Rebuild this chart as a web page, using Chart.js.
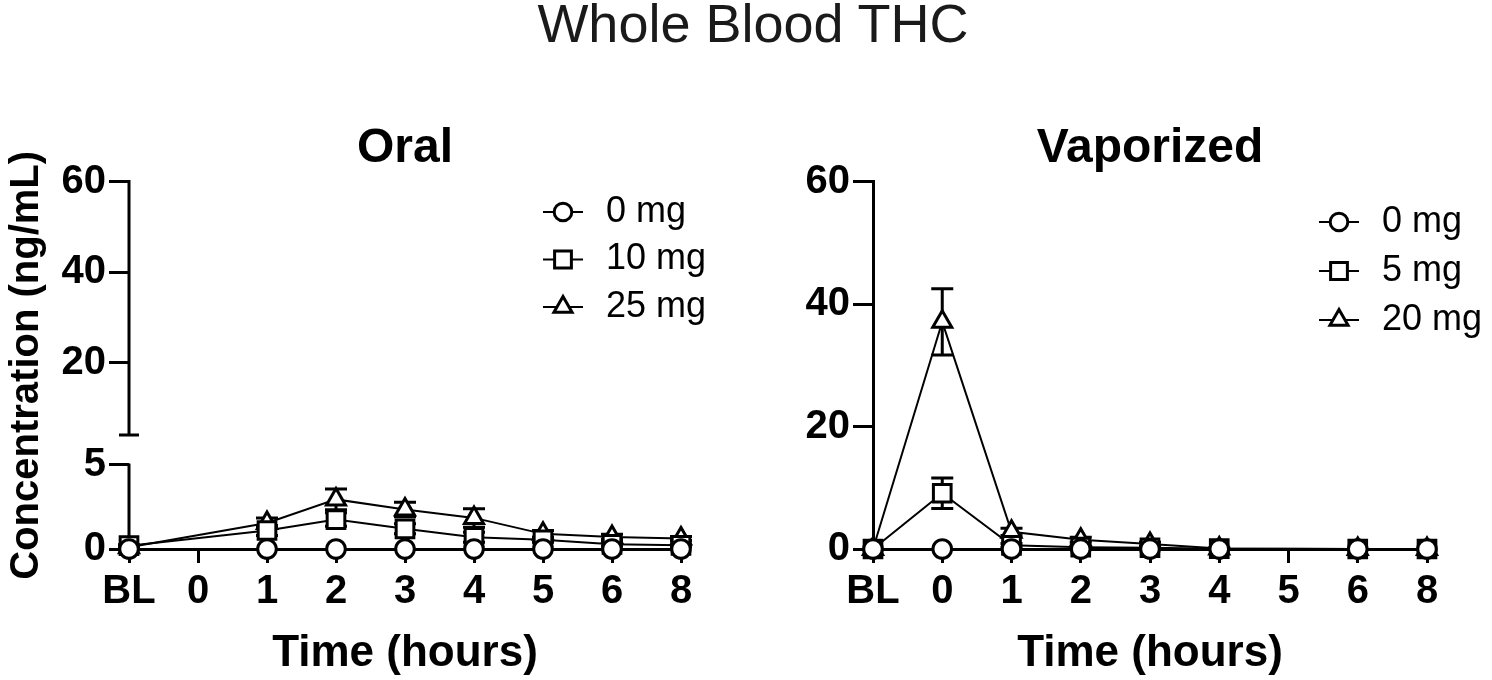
<!DOCTYPE html>
<html>
<head>
<meta charset="UTF-8">
<title>Whole Blood THC</title>
<script src="https://cdn.jsdelivr.net/npm/chart.js"></script>
<style>
body{margin:0;background:#fff;}
#wrap{position:relative;width:1492px;height:680px;}
canvas{position:absolute;top:0;}
#mainTitle{position:absolute;left:7px;top:-2px;width:1492px;text-align:center;font:54px "Liberation Sans",Arial,sans-serif;line-height:50px;color:#1a1a1a;z-index:2;}
</style>
</head>
<body>
<div id="wrap">
	<canvas id="oralChart" width="746" height="680" style="left:0"></canvas>
	<canvas id="vapChart" width="746" height="680" style="left:746px"></canvas>
	<div id="mainTitle">Whole Blood THC</div>
</div>
<script>
// time points (hours after dosing)
const timeLabels = ['BL', '0', '1', '2', '3', '4', '5', '6', '8'];

// Oral, mean ng/mL (null = no sample)
const oral0mg  = [0, null, 0, 0, 0, 0, 0, 0, 0];
const oral10mg = [0.2, null, 1.1, 1.75, 1.2, 0.7, 0.55, 0.28, 0.22];
const oral25mg = [0.1, null, 1.55, 2.95, 2.35, 1.85, 0.9, 0.72, 0.62];
// Oral, SEM
const oral0mgSem  = [0, null, 0, 0, 0, 0, 0, 0, 0];
const oral10mgSem = [0.05, null, 0.3, 0.4, 0.3, 0.3, 0.15, 0.1, 0.08];
const oral25mgSem = [0.05, null, 0.3, 0.62, 0.43, 0.55, 0.2, 0.15, 0.12];

// Vaporized, mean ng/mL
const vap0mg  = [0, 0, 0, 0, 0, 0, null, 0, 0];
const vap5mg  = [0, 9.1, 0.6, 0.3, 0.2, 0.05, null, 0, 0];
const vap20mg = [0, 37.1, 2.8, 1.5, 0.8, 0.1, null, 0, 0];
// Vaporized, SEM
const vap0mgSem  = [0, 0, 0, 0, 0, 0, null, 0, 0];
const vap5mgSem  = [0, 2.5, 0.3, 0.2, 0.1, 0.05, null, 0, 0];
const vap20mgSem = [0, 5.4, 0.6, 0.4, 0.3, 0.1, null, 0, 0];

const oralTicks = [0, 5, 20, 40, 60];
const vapTicks = [0, 20, 40, 60];

// broken y axis of the oral panel: 0-5 at the bottom, gap, 4-60 on top
const BRK = { lowMax: 5, highMin: 4, lowFrac: 84 / 367, gapFrac: 30 / 367 };

const FONT = '"Liberation Sans", Arial, Helvetica, sans-serif';
Chart.defaults.font.family = FONT;
Chart.defaults.color = '#000';

class BrokenLinearScale extends Chart.LinearScale {
	getPixelForValue(value) {
		if (value === null || isNaN(value)) return NaN;
		let dec;
		if (value <= BRK.lowMax) {
			dec = value / BRK.lowMax * BRK.lowFrac;
		} else {
			dec = BRK.lowFrac + BRK.gapFrac + (value - BRK.highMin) / (this.max - BRK.highMin) * (1 - BRK.lowFrac - BRK.gapFrac);
		}
		return this.getPixelForDecimal(dec);
	}
}
BrokenLinearScale.id = 'brokenLinear';
BrokenLinearScale.defaults = Chart.LinearScale.defaults;
Chart.register(BrokenLinearScale);

// error bars, drawn under the markers
const errorBars = {
	id: 'errorBars',
	beforeDatasetsDraw(chart) {
		const ctx = chart.ctx;
		const xs = chart.scales.x, ys = chart.scales.y;
		ctx.save();
		ctx.strokeStyle = '#000';
		ctx.lineWidth = 3;
		chart.data.datasets.forEach(ds => {
			if (!ds.sem) return;
			ds.data.forEach((v, i) => {
				const s = ds.sem[i];
				if (v === null || !s) return;
				const x = xs.getPixelForValue(i);
				const yt = ys.getPixelForValue(v + s);
				const yb = ys.getPixelForValue(Math.max(v - s, 0));
				ctx.beginPath();
				ctx.moveTo(x, yt); ctx.lineTo(x, yb);
				ctx.moveTo(x - 11, yt); ctx.lineTo(x + 11, yt);
				ctx.moveTo(x - 11, yb); ctx.lineTo(x + 11, yb);
				ctx.stroke();
			});
		});
		ctx.restore();
	}
};

// the two pieces of the oral y axis
const brokenAxis = {
	id: 'brokenAxis',
	beforeDatasetsDraw(chart) {
		const ys = chart.scales.y;
		if (ys.type !== 'brokenLinear') return;
		const ctx = chart.ctx;
		const x = chart.chartArea.left;
		const gapTop = ys.getPixelForDecimal(BRK.lowFrac + BRK.gapFrac);
		ctx.save();
		ctx.strokeStyle = '#000';
		ctx.lineWidth = 3;
		ctx.beginPath();
		ctx.moveTo(x, ys.getPixelForValue(0) + 1.5);
		ctx.lineTo(x, ys.getPixelForValue(BRK.lowMax) - 1.5);
		ctx.moveTo(x, ys.getPixelForValue(ys.max) - 1.5);
		ctx.lineTo(x, gapTop);
		ctx.moveTo(x - 10, gapTop);
		ctx.lineTo(x + 10, gapTop);
		ctx.stroke();
		ctx.restore();
	}
};

// legend in the top right of the plot
const markLegend = {
	id: 'markLegend',
	afterDraw(chart, args, opts) {
		const ctx = chart.ctx;
		ctx.save();
		chart.data.datasets.forEach((ds, i) => {
			const x = opts.x, y = opts.y + i * opts.gap;
			ctx.strokeStyle = '#000';
			ctx.lineWidth = 2;
			ctx.beginPath();
			ctx.moveTo(x - 20, y); ctx.lineTo(x + 20, y);
			ctx.stroke();
			ctx.fillStyle = '#fff';
			ctx.lineWidth = 3;
			Chart.helpers.drawPoint(ctx, { pointStyle: ds.pointStyle, radius: ds.pointRadius * 0.95, borderWidth: 3, rotation: 0 }, x, y);
			ctx.fillStyle = '#000';
			ctx.font = '36px ' + FONT;
			ctx.textBaseline = 'middle';
			ctx.textAlign = 'left';
			ctx.fillText(ds.label, x + 43, y);
		});
		ctx.restore();
	}
};

function series(label, data, sem, style, radius) {
	return {
		label: label, data: data, sem: sem,
		pointStyle: style, pointRadius: radius,
		pointBorderWidth: 3, pointBackgroundColor: '#fff', pointBorderColor: '#000',
		borderColor: '#000', borderWidth: 2,
		spanGaps: true, tension: 0, clip: false
	};
}

function panelOptions(title, yScale, legendPos) {
	return {
		responsive: false,
		animation: false,
		events: [],
		layout: { padding: { top: 100, right: 65, left: 0, bottom: 0 } },
		plugins: {
			legend: { display: false },
			tooltip: { enabled: false },
			title: {
				display: true, text: title, fullSize: false, color: '#000',
				font: { size: 48, weight: 'bold' },
				padding: { top: 20, bottom: 4 }
			},
			markLegend: legendPos
		},
		scales: {
			x: {
				type: 'category', offset: false,
				afterFit: s => { s.height = 131; },
				grid: { drawOnChartArea: false, drawTicks: true, tickLength: 14, color: '#000', lineWidth: 3 },
				border: { display: true, color: '#000', width: 3 },
				ticks: { color: '#000', font: { size: 40, weight: 'bold' }, padding: 5, maxRotation: 0, autoSkip: false },
				title: { display: true, text: 'Time (hours)', color: '#000', font: { size: 44, weight: 'bold' }, padding: { top: 0, bottom: 0 } }
			},
			y: yScale
		}
	};
}

const yTickFont = { size: 40, weight: 'bold' };

const oralY = {
	type: 'brokenLinear', min: 0, max: 60,
	afterBuildTicks: s => { s.ticks = oralTicks.map(v => ({ value: v })); },
	afterFit: s => { s.width = 129; },
	grid: { drawOnChartArea: false, tickLength: 20, color: '#000', lineWidth: 3 },
	border: { display: false },
	ticks: { color: '#000', font: yTickFont, padding: 3 },
	title: { display: true, text: 'Concentration (ng/mL)', color: '#000', font: { size: 40, weight: 'bold' }, padding: { top: 3, bottom: 0 } }
};

const vapY = {
	type: 'linear', min: 0, max: 60,
	afterBuildTicks: s => { s.ticks = vapTicks.map(v => ({ value: v })); },
	afterFit: s => { s.width = 127; },
	grid: { drawOnChartArea: false, tickLength: 20, color: '#000', lineWidth: 3 },
	border: { display: true, color: '#000', width: 3 },
	ticks: { color: '#000', font: yTickFont, padding: 3 }
};

new Chart(document.getElementById('oralChart'), {
	type: 'line',
	data: {
		labels: timeLabels,
		datasets: [
			series('0 mg', oral0mg, oral0mgSem, 'circle', 9.3),
			series('10 mg', oral10mg, oral10mgSem, 'rect', 12.5),
			series('25 mg', oral25mg, oral25mgSem, 'triangle', 11)
		]
	},
	options: panelOptions('Oral', oralY, { x: 563, y: 212, gap: 47.5 }),
	plugins: [errorBars, brokenAxis, markLegend]
});

new Chart(document.getElementById('vapChart'), {
	type: 'line',
	data: {
		labels: timeLabels,
		datasets: [
			series('0 mg', vap0mg, vap0mgSem, 'circle', 9.3),
			series('5 mg', vap5mg, vap5mgSem, 'rect', 12.5),
			series('20 mg', vap20mg, vap20mgSem, 'triangle', 11)
		]
	},
	options: panelOptions('Vaporized', vapY, { x: 593, y: 222, gap: 49 }),
	plugins: [errorBars, brokenAxis, markLegend]
});
</script>
</body>
</html>
